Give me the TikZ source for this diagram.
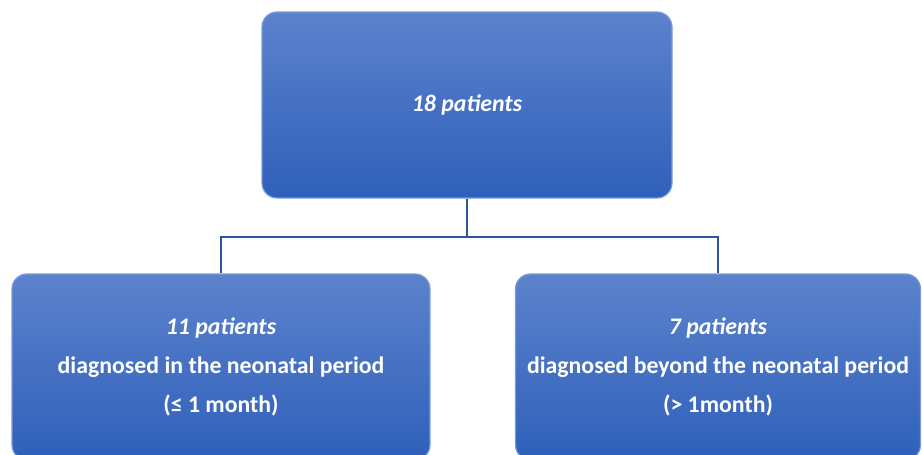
\documentclass[tikz,border=0pt]{standalone}
\usepackage{fontspec}
\setmainfont{Carlito}
\usepackage{xcolor}
\usepackage{tikz}
\usetikzlibrary{
  shapes.geometric,
  arrows.meta,
  positioning
}
\definecolor{BoxTop}{RGB}{92, 130, 204}
\definecolor{BoxBottom}{RGB}{47, 96, 186}
\definecolor{BoxEdge}{RGB}{120, 155, 220}
\definecolor{LinkBlue}{RGB}{47, 84, 158}
\tikzset{
    groupbox/.style={
        rectangle, rounded corners=15pt, top color=BoxTop, bottom color=BoxBottom,
        draw=BoxEdge, line width=1.2pt, text=white, align=center,
        font=\fontsize{23.8}{39}\selectfont\bfseries
    },
    link/.style={draw=LinkBlue, line width=1.6pt}
}

\begin{document}
\begin{tikzpicture}[x=1pt, y=-1pt]
    \useasboundingbox (0,0) rectangle (922,455);
    \begin{scope}
    \clip (0,0) rectangle (922,455);
    % total
    \node[groupbox, minimum width=410pt, minimum height=186pt] (total) at (467,105) {\itshape 18 patients};
    % two groups
    \node[groupbox, minimum width=418pt, minimum height=186pt] (neonatal) at (221,367) {
        {\itshape 11 patients}\\
        diagnosed in the neonatal period\\
        (≤ 1 month)
    };
    \node[groupbox, minimum width=405pt, minimum height=186pt] (beyond) at (718,367) {
        {\itshape 7 patients}\\
        diagnosed beyond the neonatal period\\
        (> 1month)
    };
    \coordinate (split) at (467,237);
    \draw[link] (total.south) -- (split);
    \draw[link] (split) -| (neonatal.north);
    \draw[link] (split) -| (beyond.north);
    \end{scope}
\end{tikzpicture}
\end{document}
